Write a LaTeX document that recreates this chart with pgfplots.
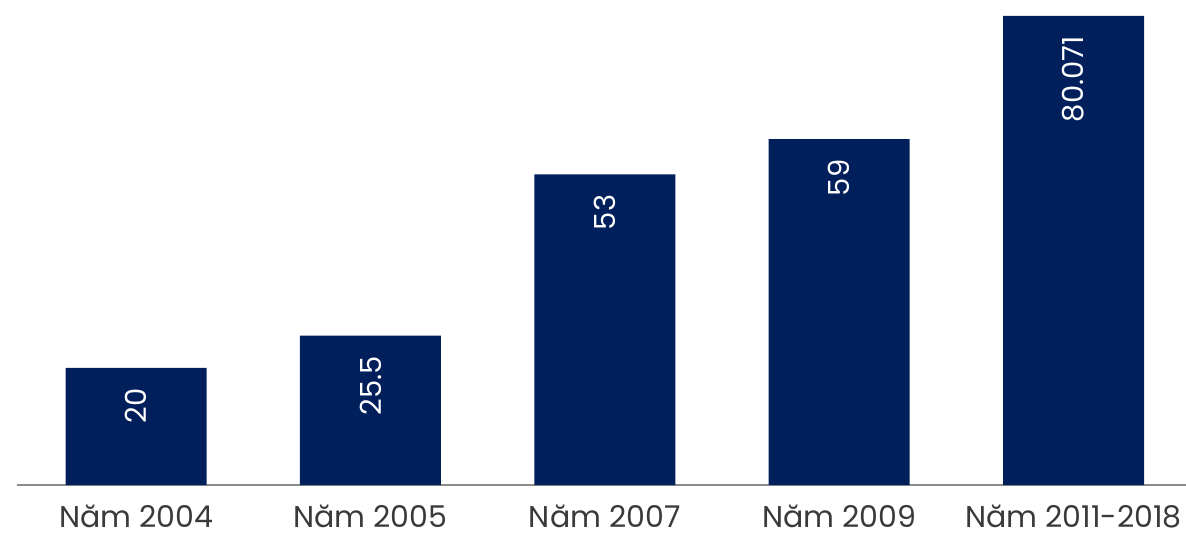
\documentclass[border=0pt]{standalone}
\usepackage{pgfplots}
\pgfplotsset{compat=1.18}
\usepackage{fontspec}
\setmainfont{Poppins}
\definecolor{navy}{RGB}{1,31,91}
\definecolor{lbl}{RGB}{58,58,58}
\definecolor{axl}{RGB}{140,140,140}
\begin{document}
\begin{tikzpicture}
\begin{axis}[name=ax, scale only axis, width=584.5pt, height=242.5pt,
 xmin=-0.508, xmax=4.48, ymin=0, ymax=82.76,
 axis y line=none, axis x line=bottom,
 x axis line style={-, draw=axl, line width=0.8pt},
 xtick={0,1,2,3,4},
 xticklabels={Năm 2004,Năm 2005,Năm 2007,Năm 2009,Năm 2011-2018},
 major tick length=0pt,
 xticklabel style={font=\fontsize{15}{18}\selectfont, text=lbl, yshift=-9pt, inner ysep=1pt},
 ybar, bar width=0.6015, bar shift=0pt,
 nodes near coords, point meta=explicit symbolic,
 every node near coord/.append style={rotate=90, anchor=east, inner xsep=10pt, font=\fontsize{14.5}{16}\selectfont, text=white},
 clip=false]
\addplot[fill=navy, draw=none] coordinates {(0,20)[20] (1,25.5)[25.5] (2,53)[53] (3,59)[59] (4,80.071)[80.071]};
\end{axis}
\pgfresetboundingbox
\path[use as bounding box] (ax.south west) ++(-8.5pt,-25.5pt) rectangle ++(593pt,268pt);
\end{tikzpicture}
\end{document}
